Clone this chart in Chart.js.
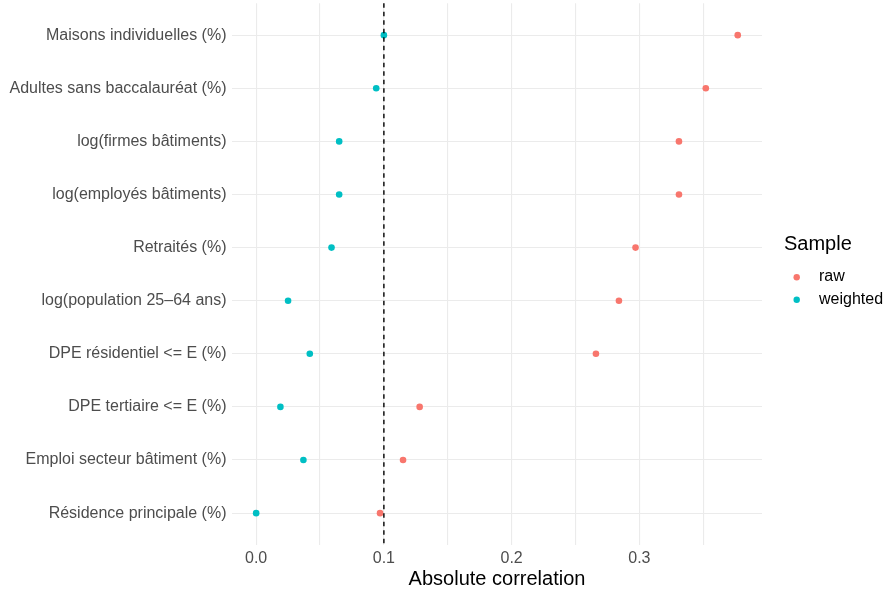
<!DOCTYPE html>
<html>
<head>
<meta charset="utf-8">
<script src="https://cdn.jsdelivr.net/npm/chart.js@4/dist/chart.umd.min.js"></script>
<style>
  html, body { margin: 0; padding: 0; background: #ffffff; }
  #wrap { width: 886px; height: 590px; position: relative; }
</style>
</head>
<body>
<div id="wrap"><canvas id="c" width="886" height="590"></canvas></div>
<script>
// Covariates, top to bottom
const categories = [
  "Maisons individuelles (%)",
  "Adultes sans baccalauréat (%)",
  "log(firmes bâtiments)",
  "log(employés bâtiments)",
  "Retraités (%)",
  "log(population 25\u201364 ans)",
  "DPE résidentiel <= E (%)",
  "DPE tertiaire <= E (%)",
  "Emploi secteur bâtiment (%)",
  "Résidence principale (%)"
];
// Absolute correlation before and after weighting
const rawValues      = [0.377, 0.352, 0.331, 0.331, 0.297, 0.284, 0.266, 0.128, 0.115, 0.097];
const weightedValues = [0.100, 0.094, 0.065, 0.065, 0.059, 0.025, 0.042, 0.019, 0.037, 0.000];
const seriesNames = ["raw", "weighted"];
const xTicks = [0, 0.05, 0.1, 0.15, 0.2, 0.25, 0.3, 0.35];
const threshold = 0.1;

const colors = ["#F8766D", "#00BFC4"];
const FONT = "'Liberation Sans', Arial, Helvetica, sans-serif";

const toPoints = vals => vals.map((v, i) => ({ x: v, y: i }));

// Dashed reference line at the threshold
const vlinePlugin = {
  id: 'vline',
  afterDatasetsDraw(chart) {
    const { ctx, chartArea, scales } = chart;
    const px = scales.x.getPixelForValue(threshold);
    ctx.save();
    ctx.beginPath();
    ctx.setLineDash([4.5, 4]);
    ctx.lineWidth = 1.4;
    ctx.strokeStyle = '#000000';
    ctx.moveTo(px, chartArea.top);
    ctx.lineTo(px, chartArea.bottom);
    ctx.stroke();
    ctx.restore();
  }
};

// Legend on the right: title plus one dot per series
const legendPlugin = {
  id: 'sideLegend',
  afterDraw(chart) {
    const { ctx } = chart;
    ctx.save();
    ctx.fillStyle = '#000000';
    ctx.font = `20px ${FONT}`;
    ctx.textBaseline = 'middle';
    ctx.textAlign = 'left';
    ctx.fillText('Sample', 784, 244);
    ctx.font = `16px ${FONT}`;
    seriesNames.forEach((name, i) => {
      const y = 277.2 + i * 22.5;
      ctx.beginPath();
      ctx.fillStyle = colors[i];
      ctx.arc(796.7, y, 3.2, 0, Math.PI * 2);
      ctx.fill();
      ctx.fillStyle = '#000000';
      ctx.fillText(name, 819, y - 0.5);
    });
    ctx.restore();
  }
};

new Chart(document.getElementById('c'), {
  type: 'scatter',
  data: {
    datasets: [
      {
        label: seriesNames[0],
        data: toPoints(rawValues),
        backgroundColor: colors[0],
        borderWidth: 0,
        pointRadius: 3.3,
        pointHoverRadius: 3.3
      },
      {
        label: seriesNames[1],
        data: toPoints(weightedValues),
        backgroundColor: colors[1],
        borderWidth: 0,
        pointRadius: 3.3,
        pointHoverRadius: 3.3
      }
    ]
  },
  options: {
    responsive: false,
    animation: false,
    layout: { padding: { left: 0, right: 124, top: 3, bottom: 0 } },
    plugins: {
      legend: { display: false },
      tooltip: { enabled: false }
    },
    scales: {
      x: {
        type: 'linear',
        min: -0.0189,
        max: 0.396,
        afterBuildTicks: s => { s.ticks = xTicks.map(v => ({ value: v })); },
        afterFit: s => { s.height = 45; s.paddingLeft = 0; s.paddingRight = 0; },
        border: { display: false },
        grid: {
          color: '#EBEBEB',
          lineWidth: 1.1,
          drawTicks: false
        },
        ticks: {
          color: '#4D4D4D',
          font: { family: FONT, size: 16 },
          padding: 4,
          maxRotation: 0,
          autoSkip: false,
          callback: v => (Math.abs(Math.round(v * 10) - v * 10) < 1e-6 ? v.toFixed(1) : '')
        },
        title: {
          display: true,
          text: 'Absolute correlation',
          color: '#000000',
          font: { family: FONT, size: 20, lineHeight: 1 },
          padding: { top: 0, bottom: 0.5 }
        }
      },
      y: {
        type: 'linear',
        reverse: true,
        min: -0.6,
        max: categories.length - 1 + 0.6,
        afterBuildTicks: s => { s.ticks = categories.map((_, i) => ({ value: i })); },
        afterFit: s => { s.width = 232; s.paddingTop = 0; s.paddingBottom = 0; },
        border: { display: false },
        grid: {
          color: '#EBEBEB',
          lineWidth: 1.1,
          drawTicks: false
        },
        ticks: {
          color: '#4D4D4D',
          font: { family: FONT, size: 16 },
          padding: 5.5,
          autoSkip: false,
          callback: v => categories[v] ?? ''
        }
      }
    }
  },
  plugins: [vlinePlugin, legendPlugin]
});
</script>
</body>
</html>
